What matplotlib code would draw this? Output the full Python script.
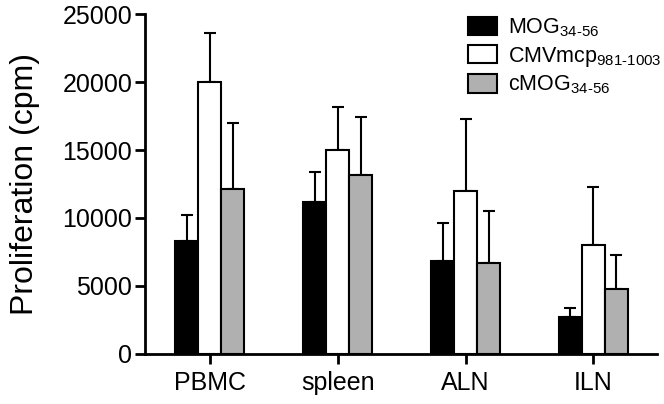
import numpy as np
import matplotlib
matplotlib.use('Agg')
import matplotlib.pyplot as plt

plt.rcParams['font.family'] = ['Liberation Sans', 'DejaVu Sans']
plt.rcParams['mathtext.fontset'] = 'custom'
plt.rcParams['mathtext.rm'] = 'Liberation Sans'
plt.rcParams['mathtext.it'] = 'Liberation Sans'

# data
tissues = ['PBMC', 'spleen', 'ALN', 'ILN']
series = [r'MOG$_{\mathrm{34\text{-}56}}$', r'CMVmcp$_{\mathrm{981\text{-}1003}}$', r'cMOG$_{\mathrm{34\text{-}56}}$']
mog = [8300, 11200, 6800, 2700]
mog_err = [1900, 2200, 2850, 700]
cmv = [20000, 15000, 12000, 8000]
cmv_err = [3600, 3200, 5300, 4300]
cmog = [12100, 13200, 6700, 4800]
cmog_err = [4900, 4200, 3850, 2500]
colors = ['black', 'white', '#b0b0b0']

fig = plt.figure(figsize=(6.64, 4.04), dpi=100)
ax = fig.add_axes([0.218, 0.124, 0.772, 0.841])

x = np.arange(len(tissues))
w = 0.18
for i, (vals, errs) in enumerate([(mog, mog_err), (cmv, cmv_err), (cmog, cmog_err)]):
    ax.bar(x + (i - 1) * w, vals, w, color=colors[i], edgecolor='black', linewidth=1.5,
           label=series[i], zorder=2)
    ax.errorbar(x + (i - 1) * w, vals, yerr=[np.zeros(len(vals)), errs], fmt='none',
                ecolor='black', elinewidth=1.5, capsize=4, capthick=1.5, zorder=1)

ax.set_xlim(-0.51, 3.5)
ax.set_ylim(0, 25000)
ax.set_yticks(range(0, 25001, 5000))
ax.set_xticks(x)
ax.set_xticklabels(tissues)
ax.spines['top'].set_visible(False)
ax.spines['right'].set_visible(False)
ax.spines['left'].set_linewidth(2)
ax.spines['bottom'].set_linewidth(2)
ax.tick_params(axis='both', width=2, length=7, labelsize=18)
ax.tick_params(axis='y', pad=2)
ax.tick_params(axis='x', pad=5)
ax.set_ylabel('Proliferation (cpm)', fontsize=23, labelpad=16)

leg = ax.legend(loc='upper right', bbox_to_anchor=(1.045, 1.05), frameon=False, fontsize=15.5,
                handlelength=1.35, handleheight=0.95, handletextpad=0.5, labelspacing=0.25)

plt.savefig('out.png', dpi=100)
